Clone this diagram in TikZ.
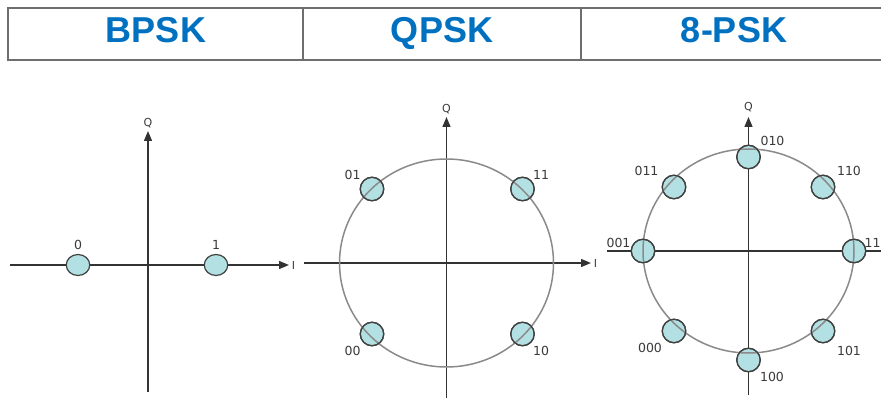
\documentclass[tikz,border=0pt]{standalone}
\usepackage{fontspec}
\setmainfont{Liberation Sans}
\newfontfamily\lblfont{DejaVu Sans}
\usetikzlibrary{arrows.meta,shapes.geometric}
\definecolor{hdrblue}{HTML}{0070C0}
\definecolor{framegray}{HTML}{6E6E6E}
\definecolor{axisgray}{HTML}{333333}
\definecolor{ringgray}{HTML}{8A8A8A}
\definecolor{ptfill}{HTML}{B3E0E2}
\definecolor{ptdraw}{HTML}{404040}
\definecolor{lblgray}{HTML}{3A3A3A}
\tikzset{
  hdr/.style={font=\fontsize{36}{36}\selectfont\bfseries, text=hdrblue, anchor=base, inner sep=0},
  frame/.style={draw=framegray, line width=2pt},
  axis/.style={draw=axisgray, line width=1.4pt},
  axisarrow/.style={axis, -{Triangle[length=10pt,width=8pt]}},
  ring/.style={draw=ringgray, line width=1.5pt},
  pt/.style={circle, minimum size=23.5pt, inner sep=0, fill=ptfill, draw=ptdraw, line width=1.2pt},
  bpt/.style={ellipse, minimum width=23.5pt, minimum height=21pt, inner sep=0, fill=ptfill, draw=ptdraw, line width=1.2pt},
  ptline/.style={circle, minimum size=23.5pt, inner sep=0, draw=ptdraw, line width=1.2pt},
  lbl/.style={font=\lblfont\fontsize{12.5}{12.5}\selectfont, text=lblgray, inner sep=0},
  axlbl/.style={font=\lblfont\fontsize{11}{11}\selectfont, text=lblgray, inner sep=0},
}
\begin{document}
\begin{tikzpicture}[x=1pt,y=-1pt]
\useasboundingbox (0,0) rectangle (881,398);
\clip (0,0) rectangle (881,398);
% header
\draw[frame] (895,8) -- (8,8) -- (8,60) -- (895,60);
\draw[frame] (303,8) -- (303,60);
\draw[frame] (581,8) -- (581,60);
\node[hdr] (hb) at (156,43) {BPSK};
\node[hdr] (hq) at (442,43) {QPSK};
\node[hdr] (h8) at (734,43) {8-PSK};

% ---------- BPSK ----------
\coordinate (bc) at (148,265);
\coordinate (bl) at (10,265);
\coordinate (br) at (289,265);
\coordinate (bb) at (148,392);
\coordinate (bt) at (148,131);
\draw[axisarrow] (bl) -- (br);
\draw[axisarrow] (bb) -- (bt);
\node[axlbl] (bI) at (293.5,265) {I};
\node[axlbl] (bQ) at (148,123) {Q};
\node[bpt] (b0) at (78,265) {};
\node[bpt] (b1) at (216,265) {};
\node[lbl] (lb0) at (78,245) {0};
\node[lbl] (lb1) at (216,245) {1};

% ---------- QPSK ----------
\coordinate (qc) at (446.5,263);
\coordinate (ql) at (304,263);
\coordinate (qr) at (591,263);
\coordinate (qb) at (446.5,400);
\coordinate (qt) at (446.5,117);
\draw[axisarrow] (ql) -- (qr);
\draw[axisarrow] (qb) -- (qt);
\node[axlbl] (qI) at (595.5,263) {I};
\node[axlbl] (qQ) at (446.5,109) {Q};
\node[pt] (q01) at (372,189) {};
\node[pt] (q11) at (522.5,189) {};
\node[pt] (q00) at (372,334) {};
\node[pt] (q10) at (522.5,334) {};
\draw[ring] (qc) ellipse [x radius=107, y radius=104];
\foreach \n in {q01,q11,q00,q10} \node[ptline] at (\n) {};
\node[lbl] (lq01) at (352.5,175) {01};
\node[lbl] (lq11) at (541,175) {11};
\node[lbl] (lq00) at (352.5,351) {00};
\node[lbl] (lq10) at (541,351) {10};

% ---------- 8-PSK ----------
\coordinate (ec) at (748.5,251);
\coordinate (el) at (607,251);
\coordinate (er) at (895,251);
\coordinate (eb) at (748.5,395);
\coordinate (et) at (748.5,117);
\draw[axis] (el) -- (er);
\draw[axisarrow] (eb) -- (et);
\node[axlbl] (eQ) at (748.5,107) {Q};
\node[pt] (e010) at (748.5,157) {};
\node[pt] (e011) at (674,187) {};
\node[pt] (e110) at (823,187) {};
\node[pt] (e001) at (643,251) {};
\node[pt] (e111) at (854,251) {};
\node[pt] (e000) at (674,331) {};
\node[pt] (e101) at (823,331) {};
\node[pt] (e100) at (748.5,360) {};
\draw[ring] (ec) ellipse [x radius=105.5, y radius=102];
\foreach \n in {e010,e011,e110,e001,e111,e000,e101,e100} \node[ptline] at (\n) {};
\node[lbl] (le010) at (772.5,141) {010};
\node[lbl] (le011) at (646.5,171) {011};
\node[lbl] (le110) at (849,171) {110};
\node[lbl] (le001) at (618.5,242.5) {001};
\node[lbl, anchor=west] (le111) at (864.5,242.5) {11};
\node[lbl] (le000) at (650,348) {000};
\node[lbl] (le101) at (849,351) {101};
\node[lbl] (le100) at (772,377) {100};
\end{tikzpicture}
\end{document}
